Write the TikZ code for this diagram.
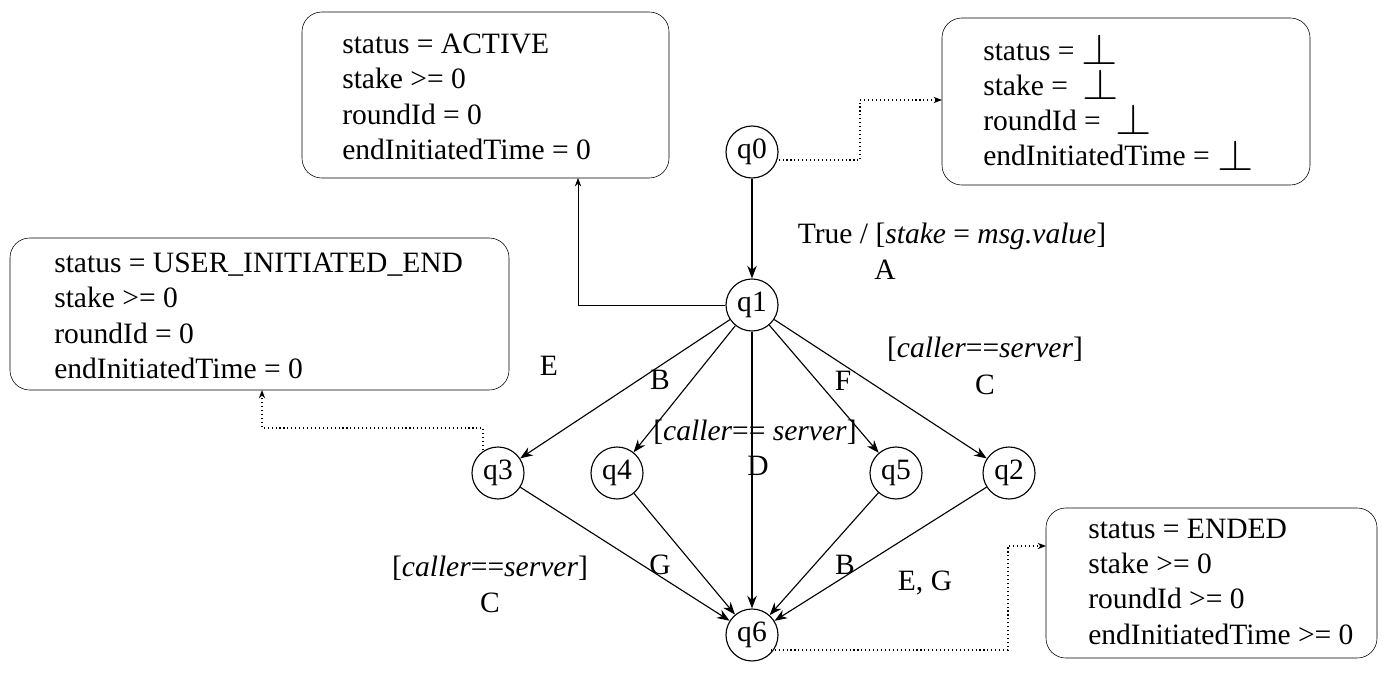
\documentclass[tikz,border=0pt]{standalone}
\usepackage{fontspec}
\setmainfont{Liberation Serif}
\usetikzlibrary{arrows.meta,positioning}
\tikzset{
  state/.style={circle,draw,thick,minimum size=52*0.025cm,inner sep=0pt},
  trans/.style={-{Stealth[length=9pt]},thick},
  link/.style={-{Stealth[length=6pt]},dotted,thick},
  lbl/.style={inner sep=0pt}
}
\newcommand{\bott}{\raisebox{-3pt}{\scalebox{1.6}[1.5]{$\perp$}}}
\begin{document}
\begin{tikzpicture}[x=0.025cm,y=-0.025cm,font=\fontsize{21}{25}\selectfont]
\useasboundingbox (0,0) rectangle (1392,676);
% states
\node[state] (q0) at (752,152) {q0};
\node[state] (q1) at (752,305) {q1};
\node[state] (q3) at (498,473) {q3};
\node[state] (q4) at (617,473) {q4};
\node[state] (q5) at (896,473) {q5};
\node[state] (q2) at (1009,473) {q2};
\node[state] (q6) at (752,635) {q6};

% boxes
\draw[rounded corners=14pt] (302,12) rectangle (669,178);
\node[lbl,anchor=north west,align=left] (act) at (342,34) {status = ACTIVE\\stake >= 0\\roundId = 0\\endInitiatedTime = 0};
\draw[rounded corners=14pt] (942,18) rectangle (1310,185);
\node[lbl,anchor=north west,align=left] (bot) at (983,34) {status = \bott\\stake = \ \bott\\roundId = \ \bott\\endInitiatedTime = \bott};
\draw[rounded corners=14pt] (10,238) rectangle (509,390);
\node[lbl,anchor=north west,align=left] (usr) at (54,253) {status = USER\_INITIATED\_END\\stake >= 0\\roundId = 0\\endInitiatedTime = 0};
\draw[rounded corners=14pt] (1046,508) rectangle (1377,658);
\node[lbl,anchor=north west,align=left] (end) at (1088,519) {status = ENDED\\stake >= 0\\roundId >= 0\\endInitiatedTime >= 0};

\coordinate (actb) at (578,178);
\coordinate (botl) at (942,100);
\coordinate (usrb) at (262,390);
\coordinate (endl) at (1046,546);

% transitions
\draw[trans] (q0) -- (q1);
\foreach \t in {q3,q4,q2,q5}{\draw[trans] (q1) -- (\t);}
\draw[trans] (q1) -- (q6);
\foreach \t in {q3,q4,q5,q2}{\draw[trans] (\t) -- (q6);}

% links to boxes
\draw[-{Stealth[length=6pt]}] (q1.west) -| (actb);
\draw[link] (q0.east |- 0,160) -| (860,100) -- (botl);
\draw[link] (483,450) |- (262,428) -- (usrb);
\draw[link] (q6.south east |- 0,650) -| (1008,546) -- (endl);

% labels
\node[lbl] (la) at (952,236) {True / [\textit{stake} = \textit{msg.value}]};
\node[lbl] at (885,270) {A};
\node[lbl] at (549,366) {E};
\node[lbl] at (660,380) {B};
\node[lbl] at (755,432) {[\textit{caller}== \textit{server}]};
\node[lbl] at (758,466) {D};
\node[lbl] at (843,381) {F};
\node[lbl] at (985,349) {[\textit{caller}==\textit{server}]};
\node[lbl] at (985,385) {C};
\node[lbl] at (490,568) {[\textit{caller}==\textit{server}]};
\node[lbl] at (490,603) {C};
\node[lbl] at (660,565) {G};
\node[lbl] at (845,565) {B};
\node[lbl] at (925,583) {E, G};
\end{tikzpicture}
\end{document}
